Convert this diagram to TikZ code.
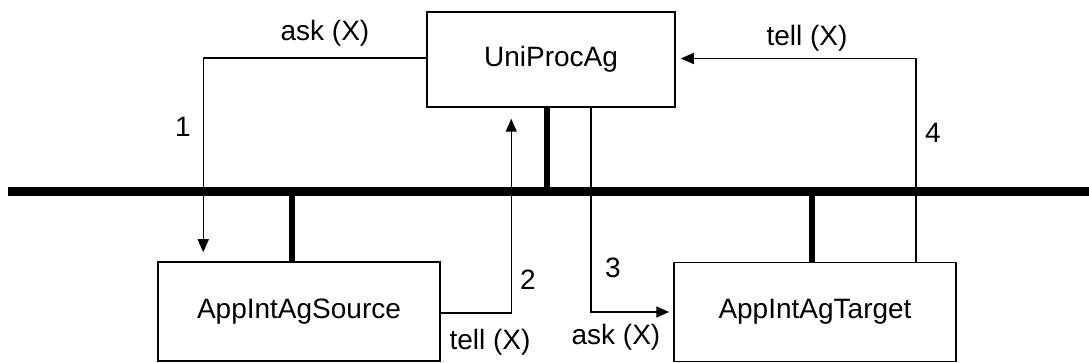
\documentclass[tikz,border=0pt]{standalone}
\usepackage{fontspec}
\setmainfont{Liberation Sans}
\usetikzlibrary{arrows.meta}
\begin{document}
\begin{tikzpicture}[x=1pt,y=-1pt,
  agent/.style={draw, line width=1.5pt, minimum height=99pt, inner sep=0pt,
    font=\fontsize{28}{32}\selectfont},
  msg/.style={line width=1.5pt, -{Triangle[length=13pt,width=11pt]}},
  bus/.style={line width=9pt},
  stub/.style={line width=6pt},
  lbl/.style={font=\fontsize{28}{32}\selectfont, inner sep=0pt}]
\useasboundingbox (0,0) rectangle (1089,363);

% agents
\node[agent, minimum width=248pt, minimum height=95pt] (U) at (551,59.5) {UniProcAg};
\node[agent, minimum width=282pt] (S) at (299,311.5) {AppIntAgSource};
\node[agent, minimum width=282pt] (T) at (815,312) {AppIntAgTarget};

% communication bus
\coordinate (busL) at (8,192);
\coordinate (busR) at (1089,192);
\draw[bus] (busL) -- (busR);

% attachments to the bus
\draw[stub] ([xshift=-4pt]U.south) -- ([xshift=-4pt]U.south |- busL);
\draw[stub] ([xshift=-7pt]S.north) -- ([xshift=-7pt]S.north |- busL);
\draw[stub] ([xshift=-3pt]T.north) -- ([xshift=-3pt]T.north |- busL);

% message flow
\draw[msg] ([yshift=1.5pt]U.west) -| ([xshift=46pt,yshift=9pt]S.north west);
\draw[msg] ([yshift=-1.5pt]S.east) -| ([xshift=85pt,yshift=-11pt]U.south west);
\draw[msg] ([xshift=40pt]U.south) |- ([xshift=-4pt]T.west);
\draw[msg] ([xshift=101pt]T.north) |- ([xshift=5pt,yshift=1pt]U.east);

% labels
\node[lbl] (l1a) at (325,33) {ask (X)};
\node[lbl] (l1n) at (183,127) {1};
\node[lbl] (l2n) at (528,280) {2};
\node[lbl] (l2a) at (490,342) {tell (X)};
\node[lbl] (l3n) at (613,268) {3};
\node[lbl] (l3a) at (616,337) {ask (X)};
\node[lbl] (l4a) at (807,38) {tell (X)};
\node[lbl] (l4n) at (933,133) {4};
\end{tikzpicture}
\end{document}
